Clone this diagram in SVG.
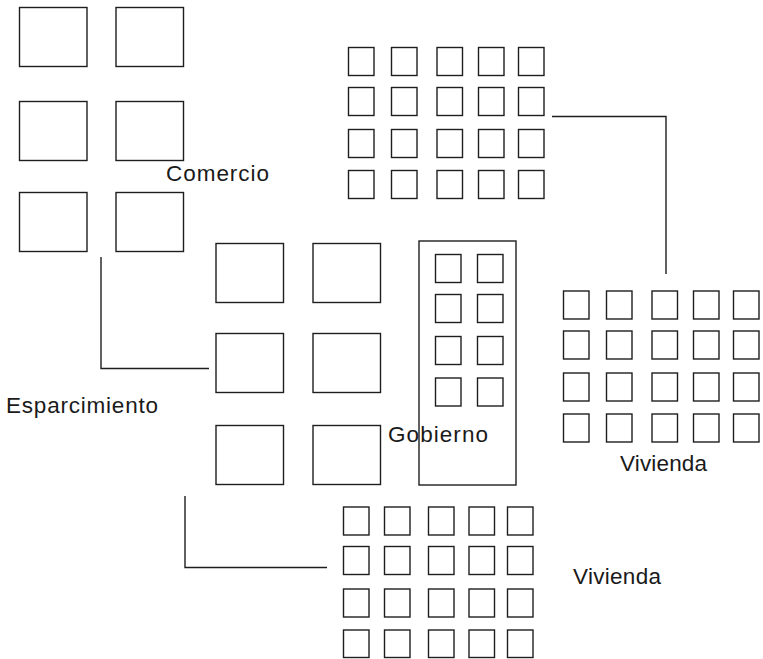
<svg xmlns="http://www.w3.org/2000/svg" xmlns:xlink="http://www.w3.org/1999/xlink" width="763" height="659" viewBox="0 0 763 659">
  <style>
    .blk { fill: #ffffff; stroke: #1e1e1e; stroke-width: 1.4; }
    .win { fill: #ffffff; stroke: #1e1e1e; stroke-width: 1.4; }
    .link { fill: none; stroke: #1e1e1e; stroke-width: 1.4; }
    .lbl { font-family: "Liberation Sans", Arial, sans-serif; font-size: 22.5px; fill: #1a1a1a; }
  </style>
  <defs>
    <!-- large block used by Comercio and Esparcimiento -->
    <rect id="block" width="67.5" height="59" class="blk"/>
    <!-- small window/house square -->
    <rect id="cell" width="25.5" height="28" class="win"/>
    <!-- 5 x 4 housing grid -->
    <g id="houses">
      <use xlink:href="#cell" x="0" y="0"/><use xlink:href="#cell" x="43" y="0"/><use xlink:href="#cell" x="88.5" y="0"/><use xlink:href="#cell" x="130" y="0"/><use xlink:href="#cell" x="170" y="0"/>
      <use xlink:href="#cell" x="0" y="40"/><use xlink:href="#cell" x="43" y="40"/><use xlink:href="#cell" x="88.5" y="40"/><use xlink:href="#cell" x="130" y="40"/><use xlink:href="#cell" x="170" y="40"/>
      <use xlink:href="#cell" x="0" y="82"/><use xlink:href="#cell" x="43" y="82"/><use xlink:href="#cell" x="88.5" y="82"/><use xlink:href="#cell" x="130" y="82"/><use xlink:href="#cell" x="170" y="82"/>
      <use xlink:href="#cell" x="0" y="123"/><use xlink:href="#cell" x="43" y="123"/><use xlink:href="#cell" x="88.5" y="123"/><use xlink:href="#cell" x="130" y="123"/><use xlink:href="#cell" x="170" y="123"/>
    </g>
  </defs>

  <g id="connectors">
    <polyline class="link" points="101,257 101,368.5 209,368.5"/>
    <polyline class="link" points="552,116.5 666,116.5 666,274"/>
    <polyline class="link" points="185,496 185,567.5 327,567.5"/>
  </g>

  <g id="comercio">
    <use xlink:href="#block" x="19.5" y="7.5"/>
    <use xlink:href="#block" x="116" y="7.5"/>
    <use xlink:href="#block" x="19.5" y="101.5"/>
    <use xlink:href="#block" x="116" y="101.5"/>
    <use xlink:href="#block" x="19.5" y="192.5"/>
    <use xlink:href="#block" x="116" y="192.5"/>
    <text class="lbl" x="166" y="181" textLength="103" lengthAdjust="spacing">Comercio</text>
  </g>

  <g id="vivienda-norte">
    <use xlink:href="#houses" x="348.5" y="47.5"/>
  </g>

  <g id="esparcimiento">
    <use xlink:href="#block" x="216" y="243.5"/>
    <use xlink:href="#block" x="313" y="243.5"/>
    <use xlink:href="#block" x="216" y="333.5"/>
    <use xlink:href="#block" x="313" y="333.5"/>
    <use xlink:href="#block" x="216" y="425.5"/>
    <use xlink:href="#block" x="313" y="425.5"/>
    <text class="lbl" x="6" y="413" textLength="152" lengthAdjust="spacing">Esparcimiento</text>
  </g>

  <g id="gobierno">
    <rect class="blk" x="419" y="241" width="97" height="244"/>
    <use xlink:href="#cell" x="435.5" y="254.5"/>
    <use xlink:href="#cell" x="477.5" y="254.5"/>
    <use xlink:href="#cell" x="435.5" y="294.5"/>
    <use xlink:href="#cell" x="477.5" y="294.5"/>
    <use xlink:href="#cell" x="435.5" y="336.5"/>
    <use xlink:href="#cell" x="477.5" y="336.5"/>
    <use xlink:href="#cell" x="435.5" y="378"/>
    <use xlink:href="#cell" x="477.5" y="378"/>
    <text class="lbl" x="388" y="441.5" textLength="100" lengthAdjust="spacing">Gobierno</text>
  </g>

  <g id="vivienda-este">
    <use xlink:href="#houses" x="563.5" y="291"/>
    <text class="lbl" x="620" y="471" textLength="87" lengthAdjust="spacing">Vivienda</text>
  </g>

  <g id="vivienda-sur">
    <rect class="win" x="343.5" y="507" width="25.5" height="28"/><rect class="win" x="384.5" y="507" width="25.5" height="28"/><rect class="win" x="428.5" y="507" width="25.5" height="28"/><rect class="win" x="469" y="507" width="25.5" height="28"/><rect class="win" x="507.5" y="507" width="25.5" height="28"/>
    <rect class="win" x="343.5" y="546.5" width="25.5" height="28"/><rect class="win" x="384.5" y="546.5" width="25.5" height="28"/><rect class="win" x="428.5" y="546.5" width="25.5" height="28"/><rect class="win" x="469" y="546.5" width="25.5" height="28"/><rect class="win" x="507.5" y="546.5" width="25.5" height="28"/>
    <rect class="win" x="343.5" y="589" width="25.5" height="28"/><rect class="win" x="384.5" y="589" width="25.5" height="28"/><rect class="win" x="428.5" y="589" width="25.5" height="28"/><rect class="win" x="469" y="589" width="25.5" height="28"/><rect class="win" x="507.5" y="589" width="25.5" height="28"/>
    <rect class="win" x="343.5" y="630" width="25.5" height="27.5"/><rect class="win" x="384.5" y="630" width="25.5" height="27.5"/><rect class="win" x="428.5" y="630" width="25.5" height="27.5"/><rect class="win" x="469" y="630" width="25.5" height="27.5"/><rect class="win" x="507.5" y="630" width="25.5" height="27.5"/>
    <text class="lbl" x="573" y="583.5" textLength="88" lengthAdjust="spacing">Vivienda</text>
  </g>
</svg>
